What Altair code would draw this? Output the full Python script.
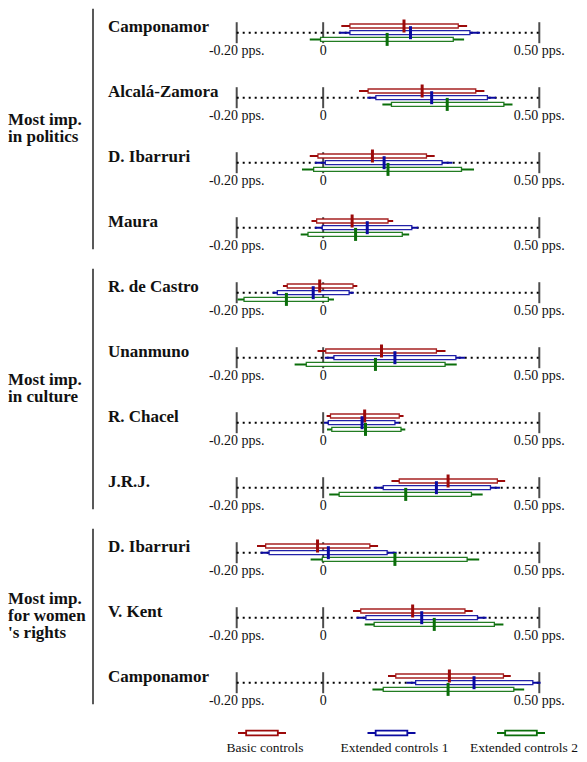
import altair as alt
import pandas as pd

# ---------------- data ----------------
row_labels = ["Camponamor", "Alcalá-Zamora", "D. Ibarruri", "Maura",
              "R. de Castro", "Unanmuno", "R. Chacel", "J.R.J.",
              "D. Ibarruri", "V. Kent", "Camponamor"]
group_lines = [["Most imp.", "in politics"], ["Most imp.", "in culture"], ["Most imp.", "for women", "'s rights"]]
group_first = [0, 4, 8]
group_last = [3, 7, 10]

series_names = ["Basic controls", "Extended controls 1", "Extended controls 2"]
series_colors = ["#9c0a0a", "#0a0aa0", "#0a6e0a"]

tick_values = [-0.2, 0.0, 0.5]
tick_labels = ["-0.20 pps.", "0", "0.50 pps."]

basic_lo = [0.042, 0.083, -0.031, -0.027, -0.093, -0.013, 0.008, 0.158, -0.153, 0.069, 0.150]
basic_q1 = [0.062, 0.104, -0.012, -0.015, -0.083, 0.006, 0.017, 0.176, -0.133, 0.087, 0.168]
basic_med = [0.187, 0.229, 0.114, 0.067, -0.008, 0.135, 0.096, 0.289, -0.013, 0.207, 0.292]
basic_q3 = [0.3125, 0.353, 0.239, 0.150, 0.069, 0.262, 0.176, 0.403, 0.108, 0.328, 0.417]
basic_hi = [0.333, 0.373, 0.258, 0.162, 0.079, 0.283, 0.186, 0.421, 0.127, 0.346, 0.434]

ext1_lo = [0.037, 0.102, -0.019, -0.019, -0.117, 0.004, 0.002, 0.117, -0.145, 0.077, 0.193]
ext1_q1 = [0.062, 0.122, 0.005, -0.002, -0.106, 0.025, 0.012, 0.139, -0.125, 0.099, 0.214]
ext1_med = [0.202, 0.251, 0.141, 0.102, -0.023, 0.166, 0.090, 0.262, 0.012, 0.228, 0.349]
ext1_q3 = [0.3395, 0.380, 0.275, 0.205, 0.060, 0.307, 0.166, 0.387, 0.148, 0.357, 0.485]
ext1_hi = [0.363, 0.400, 0.299, 0.220, 0.071, 0.328, 0.176, 0.409, 0.170, 0.378, 0.503]

ext2_lo = [-0.031, 0.137, -0.049, -0.052, -0.198, -0.066, 0.009, 0.014, -0.029, 0.096, 0.114]
ext2_q1 = [-0.006, 0.158, -0.022, -0.035, -0.183, -0.039, 0.020, 0.037, -0.002, 0.118, 0.139]
ext2_med = [0.148, 0.287, 0.150, 0.075, -0.085, 0.121, 0.098, 0.191, 0.166, 0.257, 0.289]
ext2_q3 = [0.301, 0.418, 0.320, 0.183, 0.012, 0.282, 0.180, 0.343, 0.333, 0.396, 0.441]
ext2_hi = [0.326, 0.438, 0.349, 0.199, 0.025, 0.309, 0.190, 0.369, 0.361, 0.417, 0.465]

# ---------------- tables ----------------
stats = [
    (basic_lo, basic_q1, basic_med, basic_q3, basic_hi),
    (ext1_lo, ext1_q1, ext1_med, ext1_q3, ext1_hi),
    (ext2_lo, ext2_q1, ext2_med, ext2_q3, ext2_hi),
]
recs = []
for s, (lo, q1, med, q3, hi) in enumerate(stats):
    for r in range(len(row_labels)):
        recs.append(dict(row=r, s=s, series=series_names[s],
                         lo=lo[r], q1=q1[r], med=med[r], q3=q3[r], hi=hi[r]))
box_df = pd.DataFrame(recs)

rows_df = pd.DataFrame({"row": list(range(len(row_labels))), "label": row_labels,
                        "a": min(tick_values), "b": max(tick_values)})
tick_df = pd.DataFrame([dict(row=r, t=t, tl=tl)
                        for r in range(len(row_labels))
                        for t, tl in zip(tick_values, tick_labels)])
grp_df = pd.DataFrame({"first": group_first, "last": group_last})
gtxt_df = pd.DataFrame([dict(g=g, k=k, n=len(lines), first=group_first[g], last=group_last[g], line=ln)
                        for g, lines in enumerate(group_lines) for k, ln in enumerate(lines)])
leg_df = pd.DataFrame({"series": series_names})

FONT = "Liberation Serif"
XS = alt.Scale(domain=[-0.2, 0.5], range=[228.7, 531.3], nice=False, zero=False, padding=0)
YS = alt.Scale(domain=[0, 10], range=[24.7, 674.7], nice=False, zero=False, padding=0)
CS = alt.Scale(domain=series_names, range=series_colors)
LX = alt.Scale(type="point", domain=series_names, range=[254, 513], padding=0)

# ---------------- layers ----------------
axis_line = alt.Chart(rows_df).mark_rule(color="black", strokeWidth=2, strokeDash=[2, 4]).encode(
    x=alt.X("a:Q", scale=XS, axis=None), x2="b:Q",
    y=alt.Y("row:Q", scale=YS, axis=None))

ticks = alt.Chart(tick_df).mark_tick(color="black", orient="vertical", size=21, thickness=2).encode(
    x=alt.X("t:Q", scale=XS, axis=None), y=alt.Y("row:Q", scale=YS, axis=None))

tick_text = alt.Chart(tick_df).mark_text(font=FONT, fontSize=14, color="#111", align="center",
                                         baseline="alphabetic", dy=22).encode(
    x=alt.X("t:Q", scale=XS, axis=None), y=alt.Y("row:Q", scale=YS, axis=None), text="tl:N")

row_text = alt.Chart(rows_df).mark_text(font=FONT, fontSize=17, fontWeight="bold", color="#111",
                                        align="left", baseline="alphabetic", dy=-1).encode(
    x=alt.value(100), y=alt.Y("row:Q", scale=YS, axis=None), text="label:N")

base = alt.Chart(box_df).transform_calculate(yc="datum.row + (datum.s - 1) * 0.103")

whisk = base.mark_rule(strokeWidth=2).encode(
    x=alt.X("lo:Q", scale=XS, axis=None), x2="hi:Q",
    y=alt.Y("yc:Q", scale=YS, axis=None),
    color=alt.Color("series:N", scale=CS, legend=None))

boxes = base.mark_bar(orient="horizontal", size=4, fill="white", strokeWidth=1.3, strokeOpacity=0.9).encode(
    x=alt.X("q1:Q", scale=XS, axis=None), x2="q3:Q",
    y=alt.Y("yc:Q", scale=YS, axis=None),
    stroke=alt.Stroke("series:N", scale=CS, legend=None))

meds = base.mark_tick(orient="vertical", size=13, thickness=3, opacity=1).encode(
    x=alt.X("med:Q", scale=XS, axis=None),
    y=alt.Y("yc:Q", scale=YS, axis=None),
    color=alt.Color("series:N", scale=CS, legend=None))

grp_rules = alt.Chart(grp_df).transform_calculate(
    y1="datum.first - 0.37", y2="datum.last + 0.33").mark_rule(color="#222", strokeWidth=1.5).encode(
    x=alt.value(85), y=alt.Y("y1:Q", scale=YS, axis=None), y2="y2:Q")

grp_text = alt.Chart(gtxt_df).transform_calculate(
    ym="(datum.first + datum.last) / 2 + (datum.k - (datum.n - 1) / 2) * 0.262").mark_text(
    font=FONT, fontSize=17, fontWeight="bold", color="#111", align="left",
    baseline="middle", dy=-2).encode(
    x=alt.value(0), y=alt.Y("ym:Q", scale=YS, axis=None), text="line:N")

glyph_path = "M-1,0H-0.66M0.66,0H1M-0.66,-0.1H0.66V0.1H-0.66Z"
leg_glyph = alt.Chart(leg_df).mark_point(shape=glyph_path, size=2304, filled=False, fill="white",
                                         fillOpacity=1, strokeWidth=1.8, opacity=1).encode(
    x=alt.X("series:N", scale=LX, axis=None), y=alt.value(725),
    stroke=alt.Stroke("series:N", scale=CS, legend=None))

leg_text = alt.Chart(leg_df).mark_text(font=FONT, fontSize=13.5, color="#111", align="center",
                                       baseline="middle", dx=3).encode(
    x=alt.X("series:N", scale=LX, axis=None), y=alt.value(740), text="series:N")

chart = alt.layer(
    axis_line, ticks, tick_text, row_text, whisk, boxes, meds,
    grp_rules, grp_text, leg_glyph, leg_text
).resolve_scale(x="independent").properties(
    width=571, height=746, padding=0, autosize=alt.AutoSizeParams(type="none"),
    background="white"
).configure_view(stroke=None)

chart.save("out.html", embed_options={"renderer": "svg", "actions": False})
